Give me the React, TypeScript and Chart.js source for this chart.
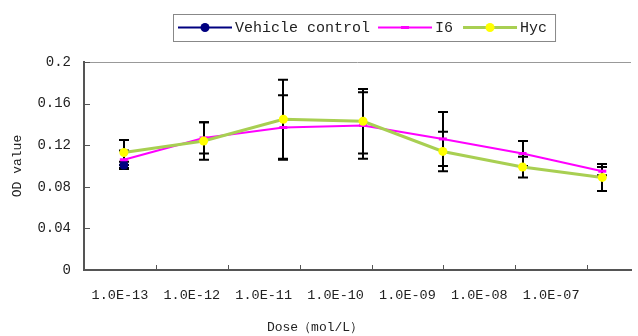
import React, { useEffect, useRef } from 'react';
import { Chart, registerables } from 'chart.js';

Chart.register(...registerables);

const categories = ['1.0E-13', '1.0E-12', '1.0E-11', '1.0E-10', '1.0E-09', '1.0E-08', '1.0E-07'];
const vehicleValues = [0.101, null, null, null, null, null, null];
const vehicleErrors = [0.003, null, null, null, null, null, null];
const i6Values = [0.106, 0.127, 0.137, 0.139, 0.126, 0.112, 0.095];
const i6Errors = [0.009, 0.015, 0.031, 0.032, 0.026, 0.012, 0.004];
const hycValues = [0.113, 0.124, 0.145, 0.143, 0.114, 0.099, 0.089];
const hycErrors = [0.012, 0.018, 0.038, 0.031, 0.019, 0.010, 0.013];
const yTickValues = [0, 0.04, 0.08, 0.12, 0.16, 0.2];
const yTickLabels = ['0', '0.04', '0.08', '0.12', '0.16', '0.2'];
const seriesNames = ['Vehicle control', 'I6', 'Hyc'];
const xTitle = 'Dose（mol/L）';
const yTitle = 'OD value';

const FONT = '"Liberation Mono", "DejaVu Sans Mono", monospace';
const TEXT = '#222';
const AXIS = '#555';

const errorSets = [
  { values: vehicleValues, errors: vehicleErrors },
  { values: i6Values, errors: i6Errors },
  { values: hycValues, errors: hycErrors },
];

const toPoints = (vals: (number | null)[]) =>
  vals.map((v, i) => ({ x: i, y: v })).filter((p) => p.y !== null);

const decorPlugin = {
  id: 'decor',
  beforeDatasetsDraw(chart: any) {
    const ctx = chart.ctx;
    const xs = chart.scales.x;
    const ys = chart.scales.y;
    ctx.save();
    ctx.strokeStyle = '#000';
    ctx.lineWidth = 2;
    errorSets.forEach((s) => {
      s.values.forEach((v, i) => {
        const e = s.errors[i];
        if (v == null || e == null) return;
        const px = Math.round(xs.getPixelForValue(i));
        const top = ys.getPixelForValue(v + e);
        const bot = ys.getPixelForValue(v - e);
        ctx.beginPath();
        ctx.moveTo(px, top);
        ctx.lineTo(px, bot);
        ctx.moveTo(px - 5, top);
        ctx.lineTo(px + 5, top);
        ctx.moveTo(px - 5, bot);
        ctx.lineTo(px + 5, bot);
        ctx.stroke();
      });
    });
    ctx.restore();
  },
  afterDraw(chart: any) {
    const ctx = chart.ctx;
    const area = chart.chartArea;
    const ys = chart.scales.y;
    const x2 = chart.scales.x2;
    ctx.save();
    // top frame line
    ctx.strokeStyle = '#999';
    ctx.lineWidth = 1;
    ctx.beginPath();
    ctx.moveTo(area.left, area.top + 0.5);
    ctx.lineTo(area.right, area.top + 0.5);
    ctx.stroke();
    // inside tick marks
    ctx.strokeStyle = AXIS;
    ctx.beginPath();
    yTickValues.forEach((v) => {
      const py = Math.round(ys.getPixelForValue(v)) + 0.5;
      ctx.moveTo(area.left, py);
      ctx.lineTo(area.left + 6, py);
    });
    for (let i = 1; i <= categories.length; i++) {
      const px = Math.round(x2.getPixelForValue(i)) + 0.5;
      ctx.moveTo(px, area.bottom);
      ctx.lineTo(px, area.bottom - 5);
    }
    ctx.stroke();

    // x axis title
    ctx.fillStyle = TEXT;
    ctx.font = `13px ${FONT}`;
    ctx.textAlign = 'center';
    ctx.textBaseline = 'middle';
    ctx.fillText(xTitle, area.left + 231, 328);

    // legend
    const ds = chart.data.datasets;
    ctx.font = `15px ${FONT}`;
    ctx.textAlign = 'left';
    const boxLeft = 173;
    const boxTop = 14;
    const boxH = 27;
    const cy = boxTop + boxH / 2;
    let cx = boxLeft + 5;
    const sampleLen = 54;
    const order = [0, 1, 2];
    order.forEach((k, idx) => {
      const d = ds[k];
      ctx.strokeStyle = d.borderColor;
      ctx.lineWidth = d.borderWidth;
      ctx.beginPath();
      ctx.moveTo(cx, cy);
      ctx.lineTo(cx + sampleLen, cy);
      ctx.stroke();
      const mx = cx + sampleLen / 2;
      if (d.pointStyle === 'line') {
        ctx.strokeStyle = d.pointBorderColor;
        ctx.lineWidth = d.pointBorderWidth;
        ctx.beginPath();
        ctx.moveTo(mx - d.pointRadius, cy);
        ctx.lineTo(mx + d.pointRadius, cy);
        ctx.stroke();
      } else {
        ctx.fillStyle = d.pointBackgroundColor;
        ctx.beginPath();
        ctx.arc(mx, cy, d.pointRadius, 0, Math.PI * 2);
        ctx.fill();
      }
      cx += sampleLen + 3;
      ctx.fillStyle = TEXT;
      ctx.fillText(seriesNames[k], cx, cy + 1);
      cx += ctx.measureText(seriesNames[k]).width;
      if (idx < order.length - 1) cx += idx === 0 ? 8 : 10;
    });
    const boxRight = cx + 8;
    ctx.strokeStyle = '#888';
    ctx.lineWidth = 1;
    ctx.strokeRect(boxLeft + 0.5, boxTop + 0.5, boxRight - boxLeft, boxH);
    ctx.restore();
  },
};

export default function App() {
  const ref = useRef<HTMLCanvasElement | null>(null);
  useEffect(() => {
    if (!ref.current) return;
    const chart = new Chart(ref.current, {
      type: 'line',
      data: {
        datasets: [
          {
            label: seriesNames[0],
            data: toPoints(vehicleValues),
            borderColor: '#000080',
            backgroundColor: '#000080',
            borderWidth: 2,
            pointRadius: 4.5,
            pointBackgroundColor: '#000080',
            pointBorderColor: '#000080',
            pointBorderWidth: 0,
            xAxisID: 'x',
            yAxisID: 'y',
            order: 2,
          },
          {
            label: seriesNames[1],
            data: toPoints(i6Values),
            borderColor: '#FF00FF',
            backgroundColor: '#FF00FF',
            borderWidth: 2,
            pointStyle: 'line',
            pointRadius: 4,
            pointBorderColor: '#FF00FF',
            pointBorderWidth: 3,
            xAxisID: 'x',
            yAxisID: 'y',
            order: 1,
          },
          {
            label: seriesNames[2],
            data: toPoints(hycValues),
            borderColor: '#A8CF52',
            backgroundColor: '#FFFF00',
            borderWidth: 3,
            pointRadius: 4.5,
            pointBackgroundColor: '#FFFF00',
            pointBorderColor: '#FFFF00',
            pointBorderWidth: 0,
            xAxisID: 'x',
            yAxisID: 'y',
            order: 0,
          },
        ] as any,
      },
      options: {
        animation: false,
        responsive: false,
        devicePixelRatio: 1,
        layout: { padding: { top: 62, right: 2, left: 0, bottom: 0 } },
        elements: { line: { tension: 0 } },
        plugins: { legend: { display: false }, tooltip: { enabled: false } },
        scales: {
          x: { type: 'linear', min: -0.5, max: 6.36, display: false },
          x2: {
            type: 'linear',
            position: 'bottom',
            min: 0,
            max: 7.61,
            afterBuildTicks: (s: any) => {
              s.ticks = categories.map((_, i) => ({ value: i + 0.5 }));
            },
            ticks: {
              callback: (_v: any, i: number) => categories[i],
              font: { family: FONT, size: 13.5 },
              color: TEXT,
              padding: 17,
              maxRotation: 0,
              autoSkip: false,
            },
            grid: { display: false, drawTicks: false },
            border: { display: true, color: AXIS, width: 2 },
            afterFit: (s: any) => {
              s.height = 66;
            },
          },
          y: {
            type: 'linear',
            min: 0,
            max: 0.2,
            afterBuildTicks: (s: any) => {
              s.ticks = yTickValues.map((v) => ({ value: v }));
            },
            ticks: {
              callback: (_v: any, i: number) => yTickLabels[i],
              font: { family: FONT, size: 14 },
              color: TEXT,
              padding: 13,
            },
            grid: { display: false, drawTicks: false },
            border: { display: true, color: AXIS, width: 2 },
            title: {
              display: true,
              text: yTitle,
              font: { family: FONT, size: 13 },
              color: TEXT,
              padding: { top: 10, bottom: 0 },
            },
            afterFit: (s: any) => {
              s.width = 84;
            },
          },
        },
      } as any,
      plugins: [decorPlugin],
    });
    return () => chart.destroy();
  }, []);
  return (
    <div style={{ position: 'absolute', left: 0, top: 0, width: 638, height: 336 }}>
      <canvas ref={ref} width={638} height={336} style={{ display: 'block' }} />
    </div>
  );
}
